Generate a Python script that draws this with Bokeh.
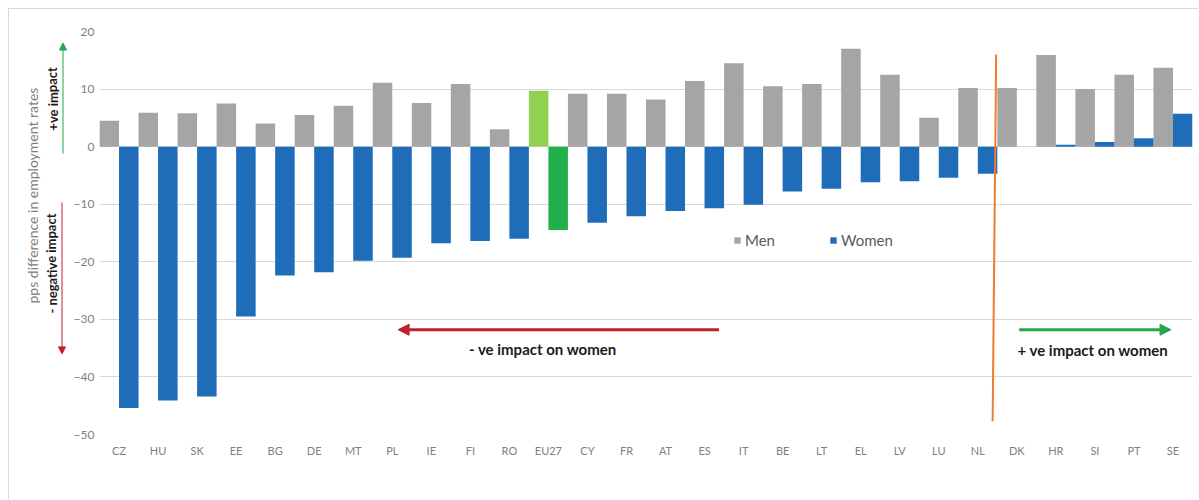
from bokeh.plotting import figure
from bokeh.layouts import row
from bokeh.models import FactorRange, Range1d, FixedTicker, Label, Arrow, NormalHead, ColumnDataSource, Legend, LegendItem
from bokeh.transform import dodge
from bokeh.embed import file_html
from bokeh.resources import INLINE

countries = ["CZ", "HU", "SK", "EE", "BG", "DE", "MT", "PL", "IE", "FI", "RO", "EU27", "CY", "FR",
             "AT", "ES", "IT", "BE", "LT", "EL", "LV", "LU", "NL", "DK", "HR", "SI", "PT", "SE"]
men = [4.5, 5.9, 5.8, 7.5, 4.0, 5.5, 7.1, 11.1, 7.6, 10.9, 3.0, 9.7, 9.2, 9.2,
       8.2, 11.4, 14.5, 10.5, 10.9, 17.0, 12.5, 5.0, 10.2, 10.2, 15.9, 10.0, 12.5, 13.7]
women = [-45.4, -44.1, -43.4, -29.5, -22.4, -21.8, -19.8, -19.3, -16.8, -16.4, -16.0, -14.5, -13.2, -12.1,
         -11.2, -10.7, -10.1, -7.8, -7.3, -6.2, -6.0, -5.4, -4.7, 0.0, 0.35, 0.8, 1.45, 5.7]
y_ticks = [-50, -40, -30, -20, -10, 0, 10, 20]

MEN_C, WOMEN_C = "#A5A5A5", "#1F6DB8"
EU_MEN_C, EU_WOMEN_C = "#92D050", "#22B04D"
RED, GREEN = "#C0202E", "#22A84A"
FONT = "Lato"

src = ColumnDataSource(dict(
    c=countries, men=men, women=women,
    mc=[EU_MEN_C if c == "EU27" else MEN_C for c in countries],
    wc=[EU_WOMEN_C if c == "EU27" else WOMEN_C for c in countries],
))

y_range = Range1d(-50, 20)
TOP, BOTTOM = 22, 65

# ---------- left strip: axis title and impact arrows ----------
left = figure(x_range=Range1d(9, 69), y_range=y_range, width=60, height=490,
              output_backend="svg", toolbar_location=None,
              min_border_left=0, min_border_right=0, min_border_top=TOP, min_border_bottom=BOTTOM)
left.axis.visible = False
left.grid.grid_line_color = None
left.outline_line_color = None

left.add_layout(Label(x=32, y=-8.5, text="pps difference in employment rates", angle=1.5708,
                      text_font=FONT, text_font_size="14px", text_color="#808080",
                      text_align="center", text_baseline="middle"))
left.add_layout(Label(x=52, y=8.3, text="+ve impact", angle=1.5708, text_font=FONT, text_font_style="bold",
                      text_font_size="13px", text_align="center", text_baseline="middle", text_color="#1a1a1a"))
left.add_layout(Label(x=51, y=-20.3, text="- negative impact", angle=1.5708, text_font=FONT,
                      text_font_style="bold", text_font_size="13px", text_align="center",
                      text_baseline="middle", text_color="#1a1a1a"))
left.add_layout(Arrow(x_start=62.5, y_start=-1.2, x_end=62.5, y_end=18.0, line_color=GREEN, line_width=1,
                      end=NormalHead(size=7, fill_color=GREEN, line_color=GREEN)))
left.add_layout(Arrow(x_start=61.5, y_start=-9.7, x_end=61.5, y_end=-36.0, line_color=RED, line_width=1,
                      end=NormalHead(size=7, fill_color=RED, line_color=RED)))

# ---------- main chart ----------
p = figure(x_range=FactorRange(*countries, range_padding=0), y_range=y_range,
           width=1129, height=490, output_backend="svg", toolbar_location=None,
           min_border_left=30, min_border_right=6, min_border_top=TOP, min_border_bottom=BOTTOM)
p.outline_line_color = None

rm = p.vbar(x=dodge("c", -0.25, range=p.x_range), top="men", width=0.5, source=src,
            fill_color="mc", line_color=None)
rw = p.vbar(x=dodge("c", 0.25, range=p.x_range), top="women", width=0.5, source=src,
            fill_color="wc", line_color=None)

legend = Legend(items=[LegendItem(label="Men", renderers=[rm], index=0),
                       LegendItem(label="Women", renderers=[rw], index=0)],
                orientation="horizontal", location=(634, 185), glyph_width=8, glyph_height=8,
                label_standoff=4, spacing=54, padding=0, margin=0, border_line_color=None,
                background_fill_alpha=0, label_text_font=FONT, label_text_font_size="15px",
                label_text_color="#595959", label_height=16)
p.add_layout(legend, "center")

p.xgrid.grid_line_color = None
p.ygrid.grid_line_color = "#d9d9d9"
p.ygrid.ticker = FixedTicker(ticks=y_ticks)
p.yaxis.ticker = FixedTicker(ticks=y_ticks)
for ax in (p.xaxis[0], p.yaxis[0]):
    ax.axis_line_color = None
    ax.major_tick_line_color = None
    ax.minor_tick_line_color = None
    ax.major_tick_out = 0
    ax.major_tick_in = 0
    ax.axis_label_standoff = 0
    ax.major_label_text_color = "#808080"
    ax.major_label_text_font = FONT
p.xaxis.major_label_text_font_size = "11px"
p.xaxis.major_label_standoff = 9
p.yaxis.major_label_text_font_size = "12px"
p.yaxis.major_label_standoff = 5

# orange divider between NL and DK
p.segment(x0=[22.97], y0=[16.0], x1=[22.88], y1=[-47.7], line_color="#ED7D31", line_width=2)

# horizontal arrows and captions
p.add_layout(Arrow(x_start=15.87, y_start=-31.8, x_end=7.65, y_end=-31.8, line_color=RED, line_width=3,
                   end=NormalHead(size=11, fill_color=RED, line_color=RED)))
p.add_layout(Arrow(x_start=23.56, y_start=-31.8, x_end=27.45, y_end=-31.8, line_color=GREEN, line_width=3,
                   end=NormalHead(size=11, fill_color=GREEN, line_color=GREEN)))
p.add_layout(Label(x=11.36, y=-35.1, text="- ve impact on women", text_font=FONT, text_font_style="bold",
                   text_font_size="15px", text_align="center", text_baseline="middle", text_color="#1a1a1a"))
p.add_layout(Label(x=25.45, y=-35.4, text="+ ve impact on women", text_font=FONT, text_font_style="bold",
                   text_font_size="15px", text_align="center", text_baseline="middle", text_color="#1a1a1a"))

layout = row(left, p, margin=(8, 0, 0, 8),
             styles={"border-left": "1px solid #d9d9d9", "border-top": "1px solid #d9d9d9"})

open("out.html", "w").write(file_html(layout, INLINE))
